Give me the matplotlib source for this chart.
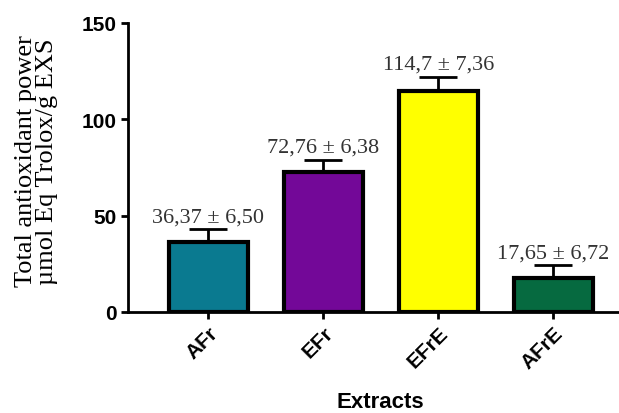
import matplotlib
matplotlib.use("Agg")
import matplotlib.pyplot as plt

categories = ["AFr", "EFr", "EFrE", "AFrE"]
values = [36.37, 72.76, 114.7, 17.65]
errors = [6.50, 6.38, 7.36, 6.72]
labels = ["36,37 ± 6,50", "72,76 ± 6,38", "114,7 ± 7,36", "17,65 ± 6,72"]
colors = ["#0a7a90", "#730898", "#ffff00", "#066a40"]

fig = plt.figure(figsize=(6.19, 4.14), dpi=100)
ax = fig.add_axes([128/619, 1-313/414, (619-128)/619, (313-24)/414])

x = list(range(len(categories)))
ax.bar(x, values, width=0.68, color=colors, edgecolor="black", linewidth=3, zorder=2)
ax.errorbar(x, values, yerr=[[0]*4, errors], fmt="none", ecolor="black",
            elinewidth=2, capsize=13.5, capthick=2, zorder=1)
for xi, v, e, t in zip(x, values, errors, labels):
    ax.text(xi, v + e + 1.5, t, ha="center", va="bottom", fontsize=16,
            family="Liberation Serif", color="#333333")

ax.set_xlim(-0.7, 3.57)
ax.set_ylim(0, 150)
ax.set_yticks([0, 50, 100, 150])
ax.set_xticks(x)
ax.set_xticklabels(categories, rotation=45, ha="right", rotation_mode="anchor",
                   fontsize=15, fontweight="bold", family="Liberation Sans")
for lab in ax.get_yticklabels():
    lab.set_fontsize(15)
    lab.set_fontweight("bold")
    lab.set_family("Liberation Sans")
for s in ["top", "right"]:
    ax.spines[s].set_visible(False)
for s in ["left", "bottom"]:
    ax.spines[s].set_linewidth(2)
ax.tick_params(axis="both", width=2, length=5, pad=3)
ax.set_ylabel("Total antioxidant power\nµmol Eq Trolox/g EXS", fontsize=19,
              family="Liberation Serif", linespacing=0.92)
ax.yaxis.set_label_coords(-0.143, 0.525)
ax.set_xlabel("Extracts", fontsize=16, fontweight="bold", family="Liberation Sans",
              va="baseline")
ax.xaxis.set_label_coords(0.513, (313 - 408) / 289)

fig.savefig("out.png", dpi=100)
